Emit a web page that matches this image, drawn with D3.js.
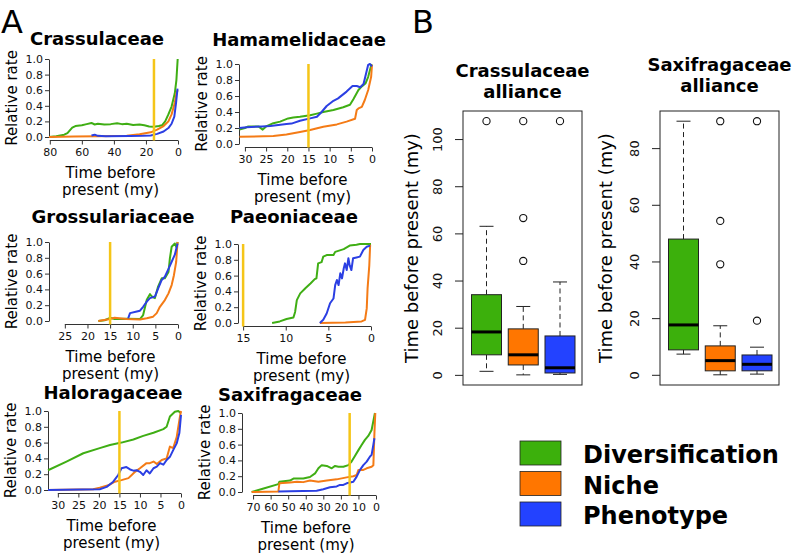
<!DOCTYPE html>
<html><head><meta charset="utf-8">
<script src="https://cdn.jsdelivr.net/npm/d3@7/dist/d3.min.js"></script>
<style>body{margin:0;background:#fff}svg{display:block;font-family:"DejaVu Sans",sans-serif}</style>
</head><body><svg id="c" width="793" height="556"></svg>
<script>
// ---------- DATA ----------
const seriesNames = ["Diversification", "Niche", "Phenotype"];
const familyNames = ["Crassulaceae", "Hamamelidaceae", "Grossulariaceae", "Paeoniaceae", "Haloragaceae", "Saxifragaceae"];
const shiftTimes = [15, 15, 15, 15, 15, 15];
const rateTicks = [0, 0.2, 0.4, 0.6, 0.8, 1.0];
const crassulaceaeTimeTicks = [80, 60, 40, 20, 0];
const hamamelidaceaeTimeTicks = [30, 25, 20, 15, 10, 5, 0];
const grossulariaceaeTimeTicks = [25, 20, 15, 10, 5, 0];
const paeoniaceaeTimeTicks = [15, 10, 5, 0];
const haloragaceaeTimeTicks = [30, 25, 20, 15, 10, 5, 0];
const saxifragaceaeTimeTicks = [70, 60, 50, 40, 30, 20, 10, 0];

// [time before present (my), relative rate]
const crassulaceaeDiv = [[80.5,0],[76,0.01],[71,0.03],[69,0.05],[66,0.12],[64,0.14],[60,0.15],[57,0.165],[54,0.18],[52,0.16],[50,0.17],[46,0.16],[42,0.165],[38,0.175],[35,0.165],[32,0.17],[28,0.155],[24,0.16],[21,0.15],[18,0.135],[15,0.13],[12,0.14],[10,0.15],[8,0.2],[6,0.29],[4,0.39],[2,0.56],[1,0.73],[0.2,1.0]];
const crassulaceaeNiche = [[80.5,0],[65,0.005],[50,0.01],[32,0.015],[24,0.035],[17,0.06],[13,0.095],[9,0.14],[6,0.2],[4,0.29],[2,0.44],[1,0.56],[0.2,0.6]];
const crassulaceaePheno = [[54,0.02],[52,0.03],[50,0.015],[45,0.01],[30,0.012],[22,0.015],[17,0.02],[13,0.04],[9,0.07],[6,0.115],[4,0.17],[2.3,0.26],[1.2,0.44],[0.3,0.62]];

const hamamelidaceaeDiv = [[31.3,0.18],[30,0.2],[29.2,0.22],[26.8,0.22],[25.8,0.18],[25,0.22],[23.3,0.26],[21.7,0.28],[19.8,0.32],[18.6,0.33],[17,0.34],[14.6,0.36],[13,0.38],[11.5,0.4],[9.1,0.425],[6.8,0.46],[5.2,0.49],[4.4,0.56],[3.2,0.675],[2.4,0.72],[1.5,0.76],[0.9,0.84],[0.1,1.0]];
const hamamelidaceaeNiche = [[31.3,0.09],[23.3,0.1],[20.2,0.12],[17,0.15],[14.6,0.175],[11.5,0.215],[8.3,0.245],[6,0.28],[4,0.315],[3.6,0.425],[3.2,0.445],[2.4,0.465],[1.7,0.55],[0.9,0.675],[0.2,0.84],[0,0.99]];
const hamamelidaceaePheno = [[31.3,0.2],[29.6,0.21],[26,0.22],[24,0.225],[20.2,0.25],[19,0.255],[17,0.29],[14.6,0.32],[13,0.34],[11.9,0.4],[10.7,0.475],[9.1,0.54],[8,0.57],[6,0.655],[4.6,0.725],[3.6,0.725],[2.8,0.71],[2,0.75],[0.9,0.99],[0.5,1.0],[0,0.97]];

const grossulariaceaeDiv = [[17.6,0],[16.2,0.01],[15,0.04],[14,0.025],[11.4,0.03],[8.4,0.025],[7.7,0.075],[6.9,0.27],[6.2,0.34],[5.8,0.31],[5.1,0.29],[4.4,0.435],[3.6,0.54],[2.9,0.54],[2.1,0.62],[1.8,0.79],[1.4,0.94],[0.7,0.98],[0.3,0.93],[0.1,1.0]];
const grossulariaceaeNiche = [[17.6,0],[15,0.025],[14,0.04],[11.4,0.025],[8.4,0.02],[6.9,0.035],[5.5,0.055],[4.7,0.1],[4,0.18],[2.9,0.265],[2.1,0.35],[1.4,0.455],[0.9,0.58],[0.4,0.75],[0.1,1.0]];
const grossulariaceaePheno = [[11,0.035],[10.6,0.1],[9.1,0.12],[8.4,0.13],[7.7,0.18],[6.9,0.245],[6.2,0.29],[5.1,0.31],[4.4,0.41],[3.6,0.52],[2.9,0.56],[2.1,0.66],[1.4,0.75],[0.7,0.84],[0.1,0.98]];

const paeoniaceaeDiv = [[11.6,0],[10.7,0.02],[9.9,0.05],[9.1,0.07],[8.9,0.14],[8.7,0.29],[8.3,0.375],[7.7,0.44],[7.1,0.5],[6.6,0.555],[6.4,0.565],[6.2,0.755],[5.8,0.77],[5.6,0.84],[5.2,0.86],[4.4,0.86],[4.2,0.9],[3.2,0.935],[2.5,0.98],[1.7,0.99],[1.3,1.0],[0,1.0]];
const paeoniaceaeNiche = [[6,0],[3,0.005],[1.1,0.02],[0.7,0.04],[0.5,0.185],[0.4,0.44],[0.2,0.73],[0.1,0.99]];
const paeoniaceaePheno = [[6,0],[5.6,0.04],[5.2,0.12],[4.8,0.25],[4.4,0.31],[4.2,0.48],[4,0.545],[3.8,0.48],[3.6,0.63],[3.4,0.565],[3.2,0.69],[3.05,0.755],[2.85,0.67],[2.65,0.82],[2.5,0.73],[2.3,0.67],[2.1,0.82],[1.7,0.83],[1.3,0.84],[0.9,0.925],[0.5,0.965],[0.1,0.98]];

const haloragaceaeDiv = [[32.4,0.25],[27.9,0.36],[23.8,0.465],[19.8,0.53],[17.3,0.57],[14.5,0.6],[11.6,0.64],[9.2,0.685],[6.7,0.725],[4.3,0.77],[3.5,0.8],[2.7,0.93],[1.5,0.99],[0.65,1.0],[0,0.97]];
const haloragaceaeNiche = [[32.4,0],[21.4,0.01],[19.8,0.03],[17.7,0.06],[16.1,0.105],[14.5,0.125],[12.8,0.15],[12,0.19],[11.2,0.23],[10,0.275],[8.4,0.34],[7.6,0.34],[6.7,0.36],[5.9,0.33],[4.7,0.38],[3.5,0.4],[2.7,0.55],[1.9,0.53],[1.05,0.67],[0.25,0.93],[0,1.0]];
const haloragaceaePheno = [[32.4,0],[19.8,0.01],[18.1,0.04],[16.5,0.105],[15.3,0.19],[14.5,0.275],[13.3,0.29],[12.4,0.26],[11.6,0.245],[10.8,0.25],[10,0.23],[9.2,0.19],[8.4,0.25],[7.6,0.21],[6.7,0.275],[5.9,0.295],[5.1,0.34],[4.3,0.32],[3.5,0.38],[2.7,0.42],[1.9,0.505],[1.05,0.59],[0.4,0.72],[0,0.95]];

const saxifragaceaeDiv = [[70.8,0],[64,0.045],[55.6,0.1],[55,0.13],[49,0.145],[47,0.17],[41.4,0.17],[37.6,0.19],[34.7,0.235],[32.8,0.3],[30.9,0.34],[28,0.33],[25.2,0.3],[23.3,0.33],[21.4,0.32],[18.6,0.32],[15.7,0.34],[13.9,0.385],[12,0.455],[10,0.53],[8.2,0.595],[6.3,0.66],[4.4,0.71],[2.5,0.785],[0.6,1.0]];
const saxifragaceaeNiche = [[70.8,0],[55.6,0.005],[55,0.11],[49,0.12],[45,0.13],[41.4,0.125],[37.6,0.145],[32.8,0.13],[28,0.145],[22.4,0.16],[16.7,0.185],[12.9,0.2],[11,0.215],[10,0.28],[7.2,0.28],[5.3,0.3],[2.5,0.32],[1.5,0.34],[0.9,0.74],[0.4,1.0]];
const saxifragaceaePheno = [[55.6,0.005],[49,0.01],[33.8,0.015],[30,0.035],[26.2,0.06],[22.4,0.07],[20.5,0.09],[18.6,0.09],[16.7,0.11],[14.8,0.12],[12.9,0.13],[11,0.195],[9.1,0.28],[7.2,0.34],[5.3,0.385],[3.4,0.45],[2.5,0.47],[1.5,0.6],[0.9,0.68]];

// Box plots: [lower whisker, Q1, median, Q3, upper whisker]
const allianceNames = ["Crassulaceae alliance", "Saxifragaceae alliance"];
const crassAllianceDivBox = [1.5, 8.5, 18.2, 34, 63];
const crassAllianceNicheBox = [0, 4.2, 8.5, 19.5, 29];
const crassAlliancePhenoBox = [0.2, 0.8, 3, 16.5, 39.4];
const crassAllianceDivOut = [107.6];
const crassAllianceNicheOut = [107.6, 66.5, 48.3];
const crassAlliancePhenoOut = [107.6];
const saxAllianceDivBox = [7.3, 8.8, 17.6, 47.9, 89.5];
const saxAllianceNicheBox = [0, 1.4, 5.0, 10.2, 17.3];
const saxAlliancePhenoBox = [0.24, 1.4, 3.7, 7.0, 9.75];
const saxAllianceDivOut = [];
const saxAllianceNicheOut = [89.5, 54.3, 39.0];
const saxAlliancePhenoOut = [89.5, 19.1];
const crassAllianceTicks = [0, 20, 40, 60, 80, 100];
const saxAllianceTicks = [0, 20, 40, 60, 80];

// ---------- STYLE / LAYOUT ----------
const lineColors = ["#3fae14", "#f47b16", "#2b3fe3"];
const boxColors = ["#3cb00c", "#ff7600", "#2342ff"];
const shiftColor = "#f5c518";
const svg = d3.select("#c");

svg.append("text").attr("x", 1).attr("y", 33).attr("font-size", 32).text("A");
svg.append("text").attr("x", 412).attr("y", 33).attr("font-size", 32).text("B");

const panels = [
  {name: familyNames[0], ticks: crassulaceaeTimeTicks, xmax: 80.5, left: 49, right: 178, top: 59, zero: 137, tx: 97, ty: 45, series: [crassulaceaeDiv, crassulaceaeNiche, crassulaceaePheno]},
  {name: familyNames[1], ticks: hamamelidaceaeTimeTicks, xmax: 31.4, left: 239, right: 372, top: 64, zero: 144, tx: 299, ty: 46, series: [hamamelidaceaeDiv, hamamelidaceaeNiche, hamamelidaceaePheno]},
  {name: familyNames[2], ticks: grossulariaceaeTimeTicks, xmax: 28.5, left: 49, right: 178, top: 242, zero: 321, tx: 113, ty: 223, series: [grossulariaceaeDiv, grossulariaceaeNiche, grossulariaceaePheno]},
  {name: familyNames[3], ticks: paeoniaceaeTimeTicks, xmax: 15.6, left: 238, right: 371, top: 244, zero: 323, tx: 294, ty: 223, series: [paeoniaceaeDiv, paeoniaceaeNiche, paeoniaceaePheno]},
  {name: familyNames[4], ticks: haloragaceaeTimeTicks, xmax: 32.4, left: 48, right: 181, top: 411, zero: 490, tx: 113, ty: 399, series: [haloragaceaeDiv, haloragaceaeNiche, haloragaceaePheno]},
  {name: familyNames[5], ticks: saxifragaceaeTimeTicks, xmax: 76.3, left: 242, right: 376, top: 413, zero: 492, tx: 290, ty: 401, series: [saxifragaceaeDiv, saxifragaceaeNiche, saxifragaceaePheno]}
];

panels.forEach((p, i) => {
  const g = svg.append("g");
  const x = d3.scaleLinear().domain([p.xmax, 0]).range([p.left, p.right]);
  const y = d3.scaleLinear().domain([0, 1]).range([p.zero, p.top]);
  const axisY = p.zero + 3.5;
  g.append("text").attr("x", p.tx).attr("y", p.ty).attr("text-anchor", "middle")
    .attr("font-size", 18).attr("font-weight", "bold").text(p.name);
  const ya = g.append("g").attr("transform", `translate(${p.left},0)`)
    .call(d3.axisLeft(y).tickValues(rateTicks).tickFormat(d3.format(".1f")).tickSize(4).tickPadding(2).tickSizeOuter(0));
  ya.selectAll("text").attr("font-size", 11).attr("fill", "#111").attr("font-family", "DejaVu Sans");
  ya.selectAll("line,path").attr("stroke", "#333");
  const xa = g.append("g").attr("transform", `translate(0,${axisY})`)
    .call(d3.axisBottom(x).tickValues(p.ticks).tickFormat(d3.format("d")).tickSize(4).tickPadding(4).tickSizeOuter(0));
  xa.select(".domain").remove();
  xa.append("line").attr("x1", x(p.ticks[0])).attr("x2", x(0)).attr("stroke", "#333");
  xa.selectAll("text").attr("font-size", 11).attr("fill", "#111").attr("font-family", "DejaVu Sans");
  xa.selectAll("line").attr("stroke", "#333");
  const cx = (p.left + p.right) / 2 - 3;
  g.append("text").attr("x", cx).attr("y", axisY + 37).attr("text-anchor", "middle").attr("font-size", 15).text("Time before");
  g.append("text").attr("x", cx).attr("y", axisY + 54).attr("text-anchor", "middle").attr("font-size", 15).text("present (my)");
  g.append("text").attr("transform", `translate(${p.left - 37},${(p.top + p.zero) / 2}) rotate(-90)`)
    .attr("dy", "0.35em").attr("text-anchor", "middle").attr("font-size", 15).text("Relative rate");
  const line = d3.line().x(d => x(d[0])).y(d => y(d[1]));
  p.series.forEach((s, k) => {
    g.append("path").datum(s).attr("d", line).attr("fill", "none")
      .attr("stroke", lineColors[k]).attr("stroke-width", 2).attr("stroke-linejoin", "round");
  });
  g.append("line").attr("x1", x(shiftTimes[i])).attr("x2", x(shiftTimes[i]))
    .attr("y1", y(1)).attr("y2", axisY).attr("stroke", shiftColor).attr("stroke-width", 2.5);
});

// ---------- Box plots ----------
const boxPanels = [
  {name: ["Crassulaceae", "alliance"], ty: 77, left: 463, right: 582, dom: [-4.3, 111.9], ticks: crassAllianceTicks,
   boxes: [crassAllianceDivBox, crassAllianceNicheBox, crassAlliancePhenoBox], outs: [crassAllianceDivOut, crassAllianceNicheOut, crassAlliancePhenoOut], lab: 412},
  {name: ["Saxifragaceae", "alliance"], ty: 71, left: 660, right: 779, dom: [-3.6, 93.1], ticks: saxAllianceTicks,
   boxes: [saxAllianceDivBox, saxAllianceNicheBox, saxAlliancePhenoBox], outs: [saxAllianceDivOut, saxAllianceNicheOut, saxAlliancePhenoOut], lab: 606}
];
const bTop = 111, bBot = 385;
boxPanels.forEach(b => {
  const g = svg.append("g");
  const y = d3.scaleLinear().domain(b.dom).range([bBot, bTop]);
  const x = d3.scalePoint().domain(seriesNames).range([b.left + 23.5, b.right - 22]);
  const bw = 30, cw = 14;
  g.append("text").attr("x", (b.left + b.right) / 2).attr("y", b.ty).attr("text-anchor", "middle")
    .attr("font-size", 18).attr("font-weight", "bold").text(b.name[0]);
  g.append("text").attr("x", (b.left + b.right) / 2).attr("y", b.ty + 21).attr("text-anchor", "middle")
    .attr("font-size", 18).attr("font-weight", "bold").text(b.name[1]);
  const ya = g.append("g").attr("transform", `translate(${b.left},0)`)
    .call(d3.axisLeft(y).tickValues(b.ticks).tickFormat(d3.format("d")).tickSize(8).tickPadding(4).tickSizeOuter(0));
  ya.select(".domain").remove();
  ya.selectAll("line").attr("stroke", "#222");
  ya.selectAll(".tick text").attr("font-size", 13).attr("fill", "#111").attr("font-family", "DejaVu Sans")
    .attr("text-anchor", "middle").attr("x", 0).attr("dy", "0em")
    .attr("transform", "translate(-21,0) rotate(-90)");
  g.append("text").attr("transform", `translate(${b.lab},${(bTop + bBot) / 2}) rotate(-90)`)
    .attr("dy", "0.35em").attr("text-anchor", "middle").attr("font-size", 18).text("Time before present (my)");
  seriesNames.forEach((s, k) => {
    const v = b.boxes[k], cx = x(s);
    g.append("line").attr("x1", cx).attr("x2", cx).attr("y1", y(v[3])).attr("y2", y(v[4]))
      .attr("stroke", "#222").attr("stroke-dasharray", "5,3.5");
    g.append("line").attr("x1", cx).attr("x2", cx).attr("y1", y(v[1])).attr("y2", y(v[0]))
      .attr("stroke", "#222").attr("stroke-dasharray", "5,3.5");
    [v[0], v[4]].forEach(w => g.append("line").attr("x1", cx - cw / 2).attr("x2", cx + cw / 2)
      .attr("y1", y(w)).attr("y2", y(w)).attr("stroke", "#222"));
    g.append("rect").attr("x", cx - bw / 2).attr("width", bw).attr("y", y(v[3])).attr("height", y(v[1]) - y(v[3]))
      .attr("fill", boxColors[k]).attr("stroke", "#222").attr("stroke-width", 1);
    g.append("line").attr("x1", cx - bw / 2).attr("x2", cx + bw / 2).attr("y1", y(v[2])).attr("y2", y(v[2]))
      .attr("stroke", "#000").attr("stroke-width", 3);
    b.outs[k].forEach(o => g.append("circle").attr("cx", cx).attr("cy", y(o)).attr("r", 3.6)
      .attr("fill", "none").attr("stroke", "#111").attr("stroke-width", 1.1));
  });
  g.append("rect").attr("x", b.left).attr("y", bTop).attr("width", b.right - b.left).attr("height", bBot - bTop)
    .attr("fill", "none").attr("stroke", "#222").attr("stroke-width", 1);
});

// ---------- Legend ----------
const leg = svg.append("g");
const legY = d3.scalePoint().domain(seriesNames).range([463, 524]);
seriesNames.forEach((s, k) => {
  leg.append("rect").attr("x", 520).attr("y", legY(s) - 22).attr("width", 41).attr("height", 24)
    .attr("fill", boxColors[k]).attr("stroke", "#222").attr("stroke-width", 0.8);
  leg.append("text").attr("x", 583).attr("y", legY(s)).attr("font-size", 24).attr("font-weight", "bold").text(s);
});
</script></body></html>
